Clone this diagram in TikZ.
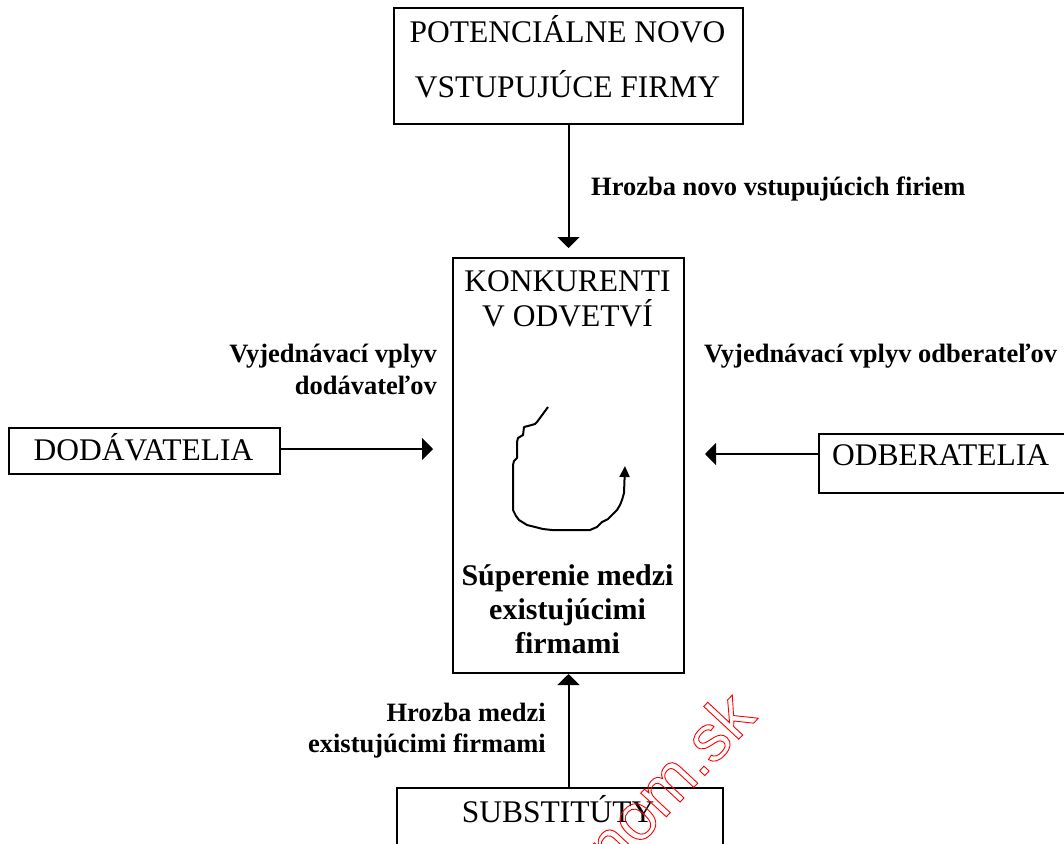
\documentclass[tikz,border=0pt]{standalone}
\usepackage{fontspec}
\setmainfont{Liberation Serif}
\newfontfamily\wmfont{Liberation Sans}
\usetikzlibrary{arrows.meta}
% hollow (stroked) red lettering for the site stamp
\newcommand{\hollowtext}[1]{\special{pdf:code q 1 Tr 0.9 w 1 0 0 RG}#1\special{pdf:code Q}}
\tikzset{
  box/.style={draw, line width=2pt, inner sep=0pt, anchor=north west},
  boxtxt/.style={font=\fontsize{31.5}{36}\selectfont, anchor=base, inner sep=0pt},
  lbl/.style={font=\bfseries\fontsize{26.5}{31}\selectfont, inner sep=0pt},
  midlbl/.style={font=\bfseries\fontsize{30}{34}\selectfont, anchor=base, inner sep=0pt},
  arr/.style={line width=2pt, -{Triangle[width=22pt,length=11pt]}},
  curl/.style={line width=2pt, line join=round, -{Triangle[width=10pt,length=11pt]}},
  stamp/.style={anchor=base west, rotate=47, inner sep=0pt,
                font=\wmfont\fontsize{66}{68}\selectfont},
}
\begin{document}
\begin{tikzpicture}[x=1pt,y=-1pt]
\useasboundingbox (0,0) rectangle (1064,843);
\clip (0,0) rectangle (1064,843);

% boxes
\node[box, minimum width=349pt, minimum height=116pt] (pot) at (393,7) {};
\node[box, minimum width=231pt, minimum height=415pt] (konk) at (452,257) {};
\node[box, minimum width=271pt, minimum height=46pt] (dod) at (8,427) {};
\node[box, minimum width=300pt, minimum height=59pt] (odb) at (818,433) {};
\node[box, minimum width=326pt, minimum height=120pt] (sub) at (396,787) {};

% box texts
\node[boxtxt] (pot1) at (567.5,42) {POTENCIÁLNE NOVO};
\node[boxtxt] (pot2) at (567.5,97) {VSTUPUJÚCE FIRMY};
\node[boxtxt] (konk1) at (567.5,291) {KONKURENTI};
\node[boxtxt] (konk2) at (567.5,326) {V ODVETVÍ};
\node[boxtxt] (dodt) at (143.5,460) {DODÁVATELIA};
\node[boxtxt, anchor=base west] (odbt) at (832,465) {ODBERATELIA};
\node[boxtxt] (subt) at (558,822) {SUBSTITÚTY};

% rivalry text inside the central box
\node[midlbl] (sup1) at (567.5,585) {Súperenie medzi};
\node[midlbl] (sup2) at (567.5,619) {existujúcimi};
\node[midlbl] (sup3) at (567.5,653) {firmami};

% connector labels
\node[lbl, anchor=base west] (lnew) at (591,195) {Hrozba novo vstupujúcich firiem};
\node[lbl, anchor=base east] (ldod1) at (437,362) {Vyjednávací vplyv};
\node[lbl, anchor=base east] (ldod2) at (437,394) {dodávateľov};
\node[lbl, anchor=base west] (lodb) at (704,362) {Vyjednávací vplyv odberateľov};
\node[lbl, anchor=base east] (lsub1) at (546,721) {Hrozba medzi};
\node[lbl, anchor=base east] (lsub2) at (546,752) {existujúcimi firmami};

% connectors
\draw[arr, shorten >=9pt] (pot.south) -- (konk.north);
\draw[arr] (konk.south |- sub.north) -- (konk.south);
\coordinate (da) at ([yshift=2pt]dod.east);
\draw[arr, shorten >=19pt] (da) -- (da -| konk.west);
\coordinate (oa) at ([yshift=9.5pt]odb.west);
\draw[arr, shorten >=20pt] (oa) -- (oa -| konk.east);

% hand-drawn rivalry loop
\draw[curl] (548,407) -- (537,422) -- (535,424) -- (528,426) -- (524,427)
  -- (523,435) -- (518,438) -- (517,442) -- (517,458) -- (514,461)
  -- (513,465) -- (513,510) -- (516,516) -- (519,520) -- (527,525)
  -- (535,527) -- (543,529) -- (552,530) -- (590,530) -- (597,527)
  -- (602,522) -- (608,519) -- (612,515) -- (617,510) -- (620,505)
  -- (622,500) -- (624,493) -- (625,466);

% site stamp
\node[stamp] (wmk) at (613,874) {\hollowtext{nom.sk}};
\end{tikzpicture}
\end{document}
